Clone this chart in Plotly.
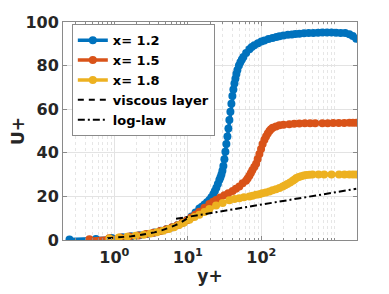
import plotly.graph_objects as go

# ---------------- data ----------------
blue_y = [0.245, 0.56, 0.92, 1.3, 1.7, 2.2, 2.8, 3.5, 4.3, 5.2, 6.2, 7.3, 8.5, 9.8, 11.2, 12.7, 14.3,
          15.5, 16.8, 18.2, 19.6, 20.9, 22.2, 23.3, 24.4, 25.6, 26.8, 27.7, 28.6, 29.5, 30.4, 31.4,
          32.4, 33.4, 34.5, 35.6, 36.7, 37.9, 39.1, 40.3, 41.6, 43.0, 44.3, 45.7, 47.2, 49.5, 51.8,
          54.3, 56.9, 62, 68.7, 74, 80.3, 90, 100, 110, 125, 142, 160, 176, 200, 230, 260, 290, 329,
          380, 440, 510, 590, 676, 780, 900, 1040, 1200, 1380, 1574, 1750, 1954]
blue_u = [0.2, 0.5, 0.9, 1.3, 1.7, 2.2, 2.8, 3.4, 4.2, 5.0, 5.9, 6.9, 8.0, 9.2, 10.8, 12.6, 14.5,
          15.3, 16.3, 17.3, 18.4, 19.6, 21.0, 22.5, 24.0, 25.7, 27.5, 28.7, 30.0, 31.8, 34.0, 37.0,
          40.5, 44.0, 47.5, 51.2, 55.0, 58.8, 62.5, 66.0, 69.0, 71.8, 74.0, 76.2, 78.0, 80.0, 81.5,
          82.8, 84.0, 85.8, 87.5, 88.5, 89.3, 90.3, 91.0, 91.5, 92.2, 92.7, 93.1, 93.5, 93.8, 94.1,
          94.3, 94.5, 94.6, 94.8, 94.9, 95.0, 95.1, 95.2, 95.2, 95.2, 95.1, 95.0, 94.9, 94.4, 93.6, 92.3]

orange_y = [0.457, 0.85, 1.2, 1.6, 2.1, 2.7, 3.4, 4.2, 5.1, 6.1, 7.2, 8.4, 9.7, 11.1, 12.6, 14.3,
            16.8, 19.6, 22, 24.2, 27.5, 31.4, 35.5, 40.6, 45, 50.1, 55.6, 61.8, 65, 68.7, 72, 75.3,
            80, 84.8, 89, 94, 99, 104, 110, 115.7, 122, 128.6, 135, 142.6, 158, 176, 200, 240, 280,
            329, 390, 460, 540, 676, 800, 950, 1130, 1340, 1574, 1760, 1954]
orange_u = [0.3, 0.8, 1.2, 1.6, 2.1, 2.7, 3.3, 4.1, 4.9, 5.8, 6.8, 7.9, 9.1, 10.3, 11.6, 13.0,
            14.8, 16.5, 17.6, 18.4, 19.5, 20.5, 21.5, 22.5, 23.5, 24.5, 26.0, 27.2, 28.2, 29.5, 30.7,
            32.0, 33.5, 35.0, 37.2, 39.5, 41.8, 44.0, 46.0, 47.5, 48.9, 50.0, 50.8, 51.5, 52.1, 52.6,
            52.9, 53.1, 53.3, 53.4, 53.5, 53.5, 53.6, 53.6, 53.6, 53.7, 53.7, 53.7, 53.8, 53.8, 53.8]

yellow_y = [0.855, 1.15, 1.5, 1.95, 2.5, 3.1, 3.8, 4.6, 5.5, 6.5, 7.6, 8.8, 10.5, 12.3, 14.3, 16.8,
            19.6, 24.2, 29.7, 36.7, 43, 50.1, 58, 68.7, 76, 84.8, 94, 103, 115, 128.6, 142, 158, 176,
            195, 210, 226, 246, 267, 283, 300, 323, 347, 377, 408, 450, 496, 600, 715, 900, 1139,
            1350, 1574, 1760, 1954]
yellow_u = [0.7, 1.1, 1.5, 1.9, 2.4, 3.0, 3.6, 4.3, 5.1, 5.9, 6.9, 7.9, 9.3, 10.5, 11.6, 12.8,
            14.2, 15.8, 17.0, 18.2, 18.8, 19.2, 19.6, 20.0, 20.3, 20.7, 21.0, 21.4, 21.8, 22.3, 22.8,
            23.3, 23.8, 24.5, 25.1, 25.7, 26.4, 27.2, 27.8, 28.4, 28.9, 29.3, 29.6, 29.8, 29.9, 30.0,
            30.1, 30.1, 30.1, 30.1, 30.1, 30.1, 30.0, 30.0]

visc_y = [0.8, 1.0, 1.3, 1.7, 2.2, 2.8, 3.5, 4.4, 5.5, 6.8, 8.2, 9.6, 11.0]
visc_u = [0.8, 1.0, 1.3, 1.7, 2.2, 2.8, 3.5, 4.4, 5.5, 6.8, 8.2, 9.6, 11.0]

loglaw_y = [6.9, 1954]
loglaw_u = [9.7, 23.5]

series_names = ["x= 1.2", "x= 1.5", "x= 1.8"]
series_colors = ["#0072BD", "#D95319", "#EDB120"]

x_tickvals = [1, 10, 100]
x_ticktext = ["10<sup>0</sup>", "10<sup>1</sup>", "10<sup>2</sup>"]
y_tickvals = [0, 20, 40, 60, 80, 100]

# ---------------- figure ----------------
fig = go.Figure()
for xs, ys, name, col in zip([blue_y, orange_y, yellow_y], [blue_u, orange_u, yellow_u],
                             series_names, series_colors):
    fig.add_trace(go.Scatter(x=xs, y=ys, mode="lines+markers", name=name,
                             line=dict(color=col, width=3.5),
                             marker=dict(color=col, size=8, symbol="circle")))

fig.add_trace(go.Scatter(x=visc_y, y=visc_u, mode="lines", name="viscous layer",
                         line=dict(color="black", width=2, dash="6px,5px")))
fig.add_trace(go.Scatter(x=loglaw_y, y=loglaw_u, mode="lines", name="log-law",
                         line=dict(color="black", width=2, dash="7px,3px,2px,3px")))

minor_vals = [m * 10 ** e for e in range(-1, 4) for m in range(2, 10)] + [1000]

axis_common = dict(
    automargin=False,
    showline=True, linecolor="#8a8a8a", linewidth=1, mirror="allticks",
    ticks="inside", ticklen=4, tickcolor="#8a8a8a",
    tickfont=dict(family="DejaVu Sans", size=16, color="#262626", weight="bold"),
    showgrid=True, gridcolor="#e3e3e3", gridwidth=1, zeroline=False,
)

fig.update_xaxes(type="log", range=[-0.699, 3.301], tickmode="array",
                 tickvals=x_tickvals, ticktext=x_ticktext, ticklabelstandoff=3,
                 title=dict(text="y+", font=dict(family="DejaVu Sans", size=17, color="#262626",
                                                  weight="bold"), standoff=10),
                 minor=dict(tickmode="array", tickvals=minor_vals, ticks="inside", ticklen=2,
                            tickcolor="#8a8a8a", showgrid=True, gridcolor="#e6e6e6",
                            griddash="dot", gridwidth=1),
                 **axis_common)
fig.update_yaxes(range=[0, 100], tickmode="array", tickvals=y_tickvals,
                 title=dict(text="U+", font=dict(family="DejaVu Sans", size=17, color="#262626",
                                                  weight="bold"), standoff=14),
                 **axis_common)

# page body has an 8px default margin: figure sized to fit inside it
fig.update_layout(
    width=373, height=278,
    margin=dict(l=55, r=24, t=14, b=46),
    paper_bgcolor="white", plot_bgcolor="white",
    showlegend=True,
    legend=dict(x=0.03, y=0.99, xanchor="left", yanchor="top",
                bgcolor="white", bordercolor="#8a8a8a", borderwidth=1,
                font=dict(family="DejaVu Sans", size=13, color="black", weight="bold"),
                itemwidth=30, tracegroupgap=0),
)

fig.write_html("out.html")
